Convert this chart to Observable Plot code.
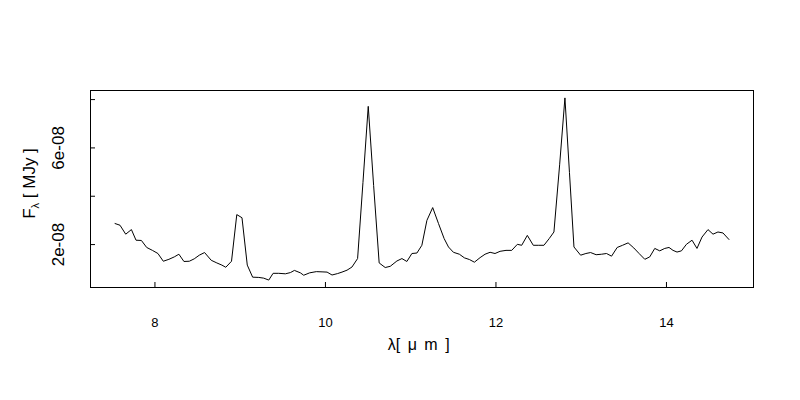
<!DOCTYPE html>
<html>
<head>
<meta charset="utf-8">
<script src="https://cdn.jsdelivr.net/npm/d3@7"></script>
<script src="https://cdn.jsdelivr.net/npm/@observablehq/plot@0.6"></script>
<style>
  html, body { margin: 0; padding: 0; background: white; }
  #chart svg { display: block; }
</style>
</head>
<body>
<div id="chart"></div>
<script>
const wavelength = [7.532,7.590,7.657,7.724,7.778,7.841,7.903,7.970,8.035,8.098,
  8.164,8.227,8.281,8.340,8.403,8.461,8.520,8.582,8.660,8.726,
  8.785,8.831,8.898,8.960,9.021,9.083,9.146,9.218,9.276,9.335,
  9.386,9.452,9.530,9.589,9.636,9.706,9.745,9.815,9.893,9.960,
  10.019,10.077,10.143,10.194,10.253,10.311,10.377,10.440,10.502,10.565,
  10.630,10.701,10.760,10.838,10.897,10.955,11.014,11.073,11.131,11.190,
  11.258,11.326,11.392,11.443,11.501,11.571,11.630,11.689,11.747,11.814,
  11.872,11.931,11.989,12.048,12.118,12.185,12.251,12.302,12.368,12.438,
  12.496,12.563,12.625,12.680,12.747,12.809,12.862,12.915,12.993,13.055,
  13.110,13.175,13.239,13.297,13.356,13.422,13.485,13.550,13.617,13.679,
  13.746,13.804,13.863,13.921,13.980,14.030,14.077,14.124,14.176,14.234,
  14.300,14.358,14.417,14.487,14.546,14.604,14.663,14.733];

const flux = [2.87e-8,2.80e-8,2.43e-8,2.62e-8,2.18e-8,2.17e-8,1.88e-8,1.76e-8,1.63e-8,1.31e-8,
  1.39e-8,1.49e-8,1.60e-8,1.30e-8,1.31e-8,1.41e-8,1.56e-8,1.67e-8,1.35e-8,1.24e-8,
  1.15e-8,1.06e-8,1.31e-8,3.24e-8,3.11e-8,1.15e-8,0.65e-8,0.64e-8,0.61e-8,0.53e-8,
  0.81e-8,0.81e-8,0.79e-8,0.84e-8,0.93e-8,0.83e-8,0.73e-8,0.83e-8,0.88e-8,0.87e-8,
  0.86e-8,0.74e-8,0.80e-8,0.86e-8,0.94e-8,1.07e-8,1.42e-8,4.57e-8,7.72e-8,4.45e-8,
  1.24e-8,1.05e-8,1.10e-8,1.32e-8,1.42e-8,1.30e-8,1.63e-8,1.65e-8,1.97e-8,3.00e-8,
  3.53e-8,2.87e-8,2.25e-8,1.90e-8,1.68e-8,1.60e-8,1.45e-8,1.38e-8,1.27e-8,1.46e-8,
  1.60e-8,1.68e-8,1.63e-8,1.72e-8,1.76e-8,1.76e-8,2.01e-8,1.97e-8,2.38e-8,1.97e-8,
  1.97e-8,1.97e-8,2.25e-8,2.52e-8,5.30e-8,8.07e-8,4.99e-8,1.90e-8,1.56e-8,1.63e-8,
  1.67e-8,1.58e-8,1.60e-8,1.63e-8,1.52e-8,1.88e-8,1.97e-8,2.07e-8,1.86e-8,1.63e-8,
  1.39e-8,1.49e-8,1.84e-8,1.74e-8,1.84e-8,1.88e-8,1.76e-8,1.69e-8,1.74e-8,2.01e-8,
  2.18e-8,1.84e-8,2.31e-8,2.62e-8,2.43e-8,2.52e-8,2.48e-8,2.21e-8];

const xTicks = [8, 10, 12, 14];
const yTicks = [2e-8, 4e-8, 6e-8, 8e-8];
const yLabelTicks = [2e-8, 6e-8];
const xDomain = [7.244, 15.021];
const yDomain = [0.223e-8, 8.376e-8];

const data = wavelength.map((w, i) => ({w, f: flux[i]}));

const W = 800, H = 400;
const mL = 90, mR = 47, mT = 90, mB = 113;
const frameW = W - mL - mR, frameH = H - mT - mB;

const plot = Plot.plot({
  width: W, height: H,
  marginLeft: mL, marginRight: mR, marginTop: mT, marginBottom: mB,
  style: {fontFamily: "'Liberation Sans', Arial, sans-serif", background: "white", color: "black"},
  x: {domain: xDomain, label: null},
  y: {domain: yDomain, label: null},
  marks: [
    Plot.frame({stroke: "black", strokeWidth: 1}),
    Plot.tickX(xTicks, {x: d => d, stroke: "black", insetTop: frameH - 5}),
    Plot.tickY(yTicks, {y: d => d, stroke: "black", insetRight: frameW - 5}),
    Plot.axisX(xTicks, {tickSize: 0, tickPadding: 30, fontSize: 13, label: null, tickFormat: d => String(d), fill: "black"}),
    Plot.axisY(yLabelTicks, {tickSize: 0, tickPadding: 27, fontSize: 17, tickRotate: -90, label: null,
      tickFormat: d => Math.round(d * 1e8) + "e-08", fill: "black"}),
    Plot.line(data, {x: "w", y: "f", stroke: "black", strokeWidth: 1})
  ]
});

document.getElementById("chart").appendChild(plot);

const svg = d3.select(plot);
// x-axis title
svg.append("text")
  .attr("x", 418.7).attr("y", 350)
  .attr("text-anchor", "middle")
  .attr("font-family", "'Liberation Sans', Arial, sans-serif")
  .attr("font-size", 16)
  .attr("word-spacing", 3)
  .attr("fill", "black")
  .text("λ[ μ m ]");

// y-axis title
const yt = svg.append("text")
  .attr("transform", "translate(35,183.5) rotate(-90)")
  .attr("text-anchor", "middle")
  .attr("font-family", "'Liberation Sans', Arial, sans-serif")
  .attr("font-size", 17)
  .attr("fill", "black");
yt.append("tspan").text("F");
yt.append("tspan").attr("font-size", 11).attr("dy", 4).text("λ");
yt.append("tspan").attr("dy", -4).text(" [ MJy ]");
</script>
</body>
</html>
